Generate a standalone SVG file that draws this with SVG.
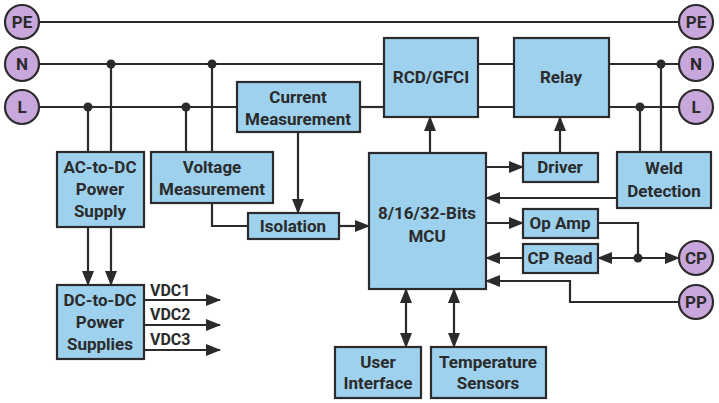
<svg xmlns="http://www.w3.org/2000/svg" width="719" height="403" viewBox="0 0 719 403">
<style>
.box{fill:#9dd1ee;stroke:#2b2b2b;stroke-width:2.2}
.term{fill:#c8a8dc;stroke:#2b2b2b;stroke-width:2.2}
.w{fill:none;stroke:#2b2b2b;stroke-width:2.2}
text{font-family:"Roboto","Liberation Sans",sans-serif;font-weight:bold;font-size:17px;fill:#2b2b2b;text-anchor:middle}
.lab{text-anchor:start;font-size:16px}
.dot{fill:#2b2b2b}
</style>
<defs>
<marker id="ah" markerUnits="userSpaceOnUse" markerWidth="15" markerHeight="12" refX="14" refY="6" orient="auto-start-reverse" viewBox="0 0 15 12">
<path d="M0,0 L15,6 L0,12 Z" fill="#2b2b2b"/>
</marker>
</defs>
<g id="connectors">
<line class="w" x1="39" y1="22" x2="679" y2="22"/>
<line class="w" x1="39" y1="64" x2="384" y2="64"/>
<line class="w" x1="478" y1="64" x2="514" y2="64"/>
<line class="w" x1="609" y1="64" x2="679" y2="64"/>
<line class="w" x1="39" y1="107" x2="237" y2="107"/>
<line class="w" x1="360" y1="107" x2="384" y2="107"/>
<line class="w" x1="478" y1="107" x2="514" y2="107"/>
<line class="w" x1="609" y1="107" x2="679" y2="107"/>
<line class="w" x1="88" y1="107" x2="88" y2="152"/>
<line class="w" x1="111" y1="64" x2="111" y2="152"/>
<line class="w" x1="186" y1="107" x2="186" y2="152"/>
<line class="w" x1="212" y1="64" x2="212" y2="152"/>
<line class="w" x1="640" y1="107" x2="640" y2="152"/>
<line class="w" x1="661" y1="64" x2="661" y2="152"/>
<circle class="dot" cx="88" cy="107" r="4.5"/>
<circle class="dot" cx="111" cy="64" r="4.5"/>
<circle class="dot" cx="186" cy="107" r="4.5"/>
<circle class="dot" cx="212" cy="64" r="4.5"/>
<circle class="dot" cx="640" cy="107" r="4.5"/>
<circle class="dot" cx="661" cy="64" r="4.5"/>
<line class="w" x1="88" y1="227" x2="88" y2="285" marker-end="url(#ah)"/>
<line class="w" x1="111" y1="227" x2="111" y2="285" marker-end="url(#ah)"/>
<polyline class="w" points="212,203 212,226 248,226"/>
<line class="w" x1="298" y1="132" x2="298" y2="213" marker-end="url(#ah)"/>
<line class="w" x1="339" y1="226" x2="369" y2="226" marker-end="url(#ah)"/>
<line class="w" x1="430" y1="153" x2="430" y2="117" marker-end="url(#ah)"/>
<line class="w" x1="560" y1="153" x2="560" y2="117" marker-end="url(#ah)"/>
<line class="w" x1="486" y1="167" x2="523" y2="167" marker-end="url(#ah)"/>
<line class="w" x1="617" y1="198" x2="486" y2="198" marker-end="url(#ah)"/>
<line class="w" x1="486" y1="223" x2="523" y2="223" marker-end="url(#ah)"/>
<line class="w" x1="523" y1="258" x2="486" y2="258" marker-end="url(#ah)"/>
<polyline class="w" points="598,223 638,223 638,258"/>
<line class="w" x1="638" y1="258" x2="598" y2="258" marker-end="url(#ah)"/>
<line class="w" x1="638" y1="258" x2="679" y2="258" marker-end="url(#ah)"/>
<circle class="dot" cx="638" cy="258" r="4.5"/>
<polyline class="w" points="679,302 570,302 570,281 486,281" marker-end="url(#ah)"/>
<line class="w" x1="406" y1="289" x2="406" y2="347" marker-start="url(#ah)" marker-end="url(#ah)"/>
<line class="w" x1="454" y1="289" x2="454" y2="347" marker-start="url(#ah)" marker-end="url(#ah)"/>
<line class="w" x1="144" y1="300" x2="220" y2="300" marker-end="url(#ah)"/>
<line class="w" x1="144" y1="325" x2="220" y2="325" marker-end="url(#ah)"/>
<line class="w" x1="144" y1="350" x2="220" y2="350" marker-end="url(#ah)"/>
<text class="lab" x="150" y="296">VDC1</text>
<text class="lab" x="150" y="320">VDC2</text>
<text class="lab" x="150" y="345">VDC3</text>
</g>
<g id="PE-left"><circle class="term" cx="22" cy="22" r="17"/><text x="22" y="28">PE</text></g>
<g id="N-left"><circle class="term" cx="22" cy="64" r="17"/><text x="22" y="70">N</text></g>
<g id="L-left"><circle class="term" cx="22" cy="107" r="17"/><text x="22" y="113">L</text></g>
<g id="PE-right"><circle class="term" cx="696" cy="22" r="17"/><text x="696" y="28">PE</text></g>
<g id="N-right"><circle class="term" cx="696" cy="64" r="17"/><text x="696" y="70">N</text></g>
<g id="L-right"><circle class="term" cx="696" cy="107" r="17"/><text x="696" y="113">L</text></g>
<g id="CP"><circle class="term" cx="696" cy="258" r="17"/><text x="696" y="264">CP</text></g>
<g id="PP"><circle class="term" cx="696" cy="302" r="17"/><text x="696" y="308">PP</text></g>
<g id="rcd"><rect class="box" x="384" y="38" width="94" height="79"/><text x="431" y="83">RCD/GFCI</text></g>
<g id="relay"><rect class="box" x="514" y="38" width="95" height="79"/><text x="561" y="83">Relay</text></g>
<g id="current"><rect class="box" x="237" y="82" width="123" height="50"/><text x="298" y="103">Current</text><text x="298" y="125">Measurement</text></g>
<g id="acdc"><rect class="box" x="57" y="152" width="87" height="75"/><text x="100" y="173">AC-to-DC</text><text x="100" y="195">Power</text><text x="100" y="217">Supply</text></g>
<g id="voltage"><rect class="box" x="151" y="152" width="122" height="51"/><text x="212" y="173">Voltage</text><text x="212" y="195">Measurement</text></g>
<g id="isolation"><rect class="box" x="248" y="213" width="91" height="26"/><text x="293" y="232">Isolation</text></g>
<g id="mcu"><rect class="box" x="369" y="153" width="117" height="136"/><text x="427" y="219">8/16/32-Bits</text><text x="427" y="242">MCU</text></g>
<g id="driver"><rect class="box" x="523" y="153" width="75" height="29"/><text x="560" y="173">Driver</text></g>
<g id="weld"><rect class="box" x="617" y="152" width="94" height="56"/><text x="664" y="174">Weld</text><text x="664" y="197">Detection</text></g>
<g id="opamp"><rect class="box" x="523" y="209" width="75" height="29"/><text x="560" y="229">Op Amp</text></g>
<g id="cpread"><rect class="box" x="523" y="244" width="75" height="29"/><text x="560" y="264">CP Read</text></g>
<g id="dcdc"><rect class="box" x="57" y="285" width="87" height="74"/><text x="100" y="306">DC-to-DC</text><text x="100" y="328">Power</text><text x="100" y="350">Supplies</text></g>
<g id="ui"><rect class="box" x="335" y="347" width="86" height="51"/><text x="378" y="368">User</text><text x="378" y="389">Interface</text></g>
<g id="temp"><rect class="box" x="431" y="347" width="115" height="51"/><text x="488" y="368">Temperature</text><text x="488" y="389">Sensors</text></g>
</svg>
